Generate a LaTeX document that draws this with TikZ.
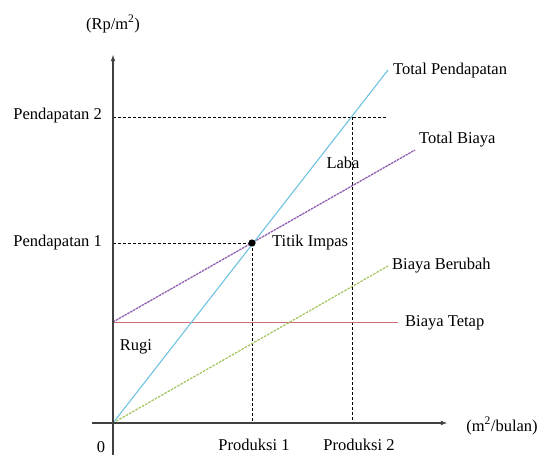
\documentclass[tikz,border=0pt]{standalone}
\usepackage{fontspec}
\setmainfont{Liberation Serif}
\begin{document}
\begin{tikzpicture}[x=1pt,y=-1pt,
  lbl/.style={inner sep=0pt, font=\fontsize{16.5}{18}\selectfont},
  axis/.style={draw=black!75, line width=1.1pt},
  guide/.style={draw=black, line width=0.8pt, dash pattern=on 3pt off 2pt},
  tpline/.style={draw={rgb,255:red,110;green,195;blue,225}, line width=1.1pt},
  tbline/.style={draw={rgb,255:red,145;green,95;blue,175}, line width=1.3pt, dash pattern=on 2.5pt off 0.8pt},
  ftline/.style={draw={rgb,255:red,205;green,110;blue,120}, line width=1pt},
  bbline/.style={draw={rgb,255:red,160;green,195;blue,90}, line width=1.2pt, dash pattern=on 2.5pt off 1.2pt}]
\useasboundingbox (0,0) rectangle (540,457);
% points
\coordinate (O) at (113,423);
\coordinate (Ytop) at (113,55);
\coordinate (Ybot) at (113,455);
\coordinate (Xl) at (92,423);
\coordinate (Xr) at (447,423);
\coordinate (TPend) at (388,70);
\coordinate (F0) at (113,322);
\coordinate (TBend) at (415,150);
\coordinate (FTend) at (398,322);
\coordinate (BBend) at (388,266);
\coordinate (P2L) at (113,117);
\coordinate (P2R) at (387,117);
\coordinate (P1L) at (113,243);
\coordinate (BEP) at (252,243);
\coordinate (B1) at (252,423);
\coordinate (Q2) at (352,117);
\coordinate (B2) at (352,423);
% guides
\draw[guide] (P2L) -- (P2R);
\draw[guide] (P1L) -- (BEP);
\draw[guide] (BEP) -- (B1);
\draw[guide] (Q2) -- (B2);
% lines
\draw[ftline] (F0) -- (FTend);
\draw[bbline] (O) -- (BBend);
\draw[tbline] (F0) -- (TBend);
\draw[tpline] (O) -- (TPend);
% axes
\draw[axis,-latex] (Ybot) -- (Ytop);
\draw[axis,-latex] (Xl) -- (Xr);
\fill (BEP) circle (3.6pt);
% labels
\node[lbl] (lrp) at (113,24) {(Rp/m\textsuperscript{2})};
\node[lbl,anchor=east] (lp2) at (102,116) {Pendapatan 2};
\node[lbl,anchor=east] (lp1) at (102,243) {Pendapatan 1};
\node[lbl,anchor=west] (ltp) at (393,71) {Total Pendapatan};
\node[lbl,anchor=west] (ltb) at (419,140) {Total Biaya};
\node[lbl,anchor=west] (lbb) at (392,266) {Biaya Berubah};
\node[lbl,anchor=west] (lbt) at (405,323) {Biaya Tetap};
\node[lbl] (llaba) at (343,163) {Laba};
\node[lbl] (lrugi) at (136,347) {Rugi};
\node[lbl,anchor=west] (ltik) at (272,243) {Titik Impas};
\node[lbl] (l0) at (101,447) {0};
\node[lbl] (lpr1) at (254,445) {Produksi 1};
\node[lbl] (lpr2) at (359,445) {Produksi 2};
\node[lbl] (lx) at (502,426) {(m\textsuperscript{2}/bulan)};
\end{tikzpicture}
\end{document}
